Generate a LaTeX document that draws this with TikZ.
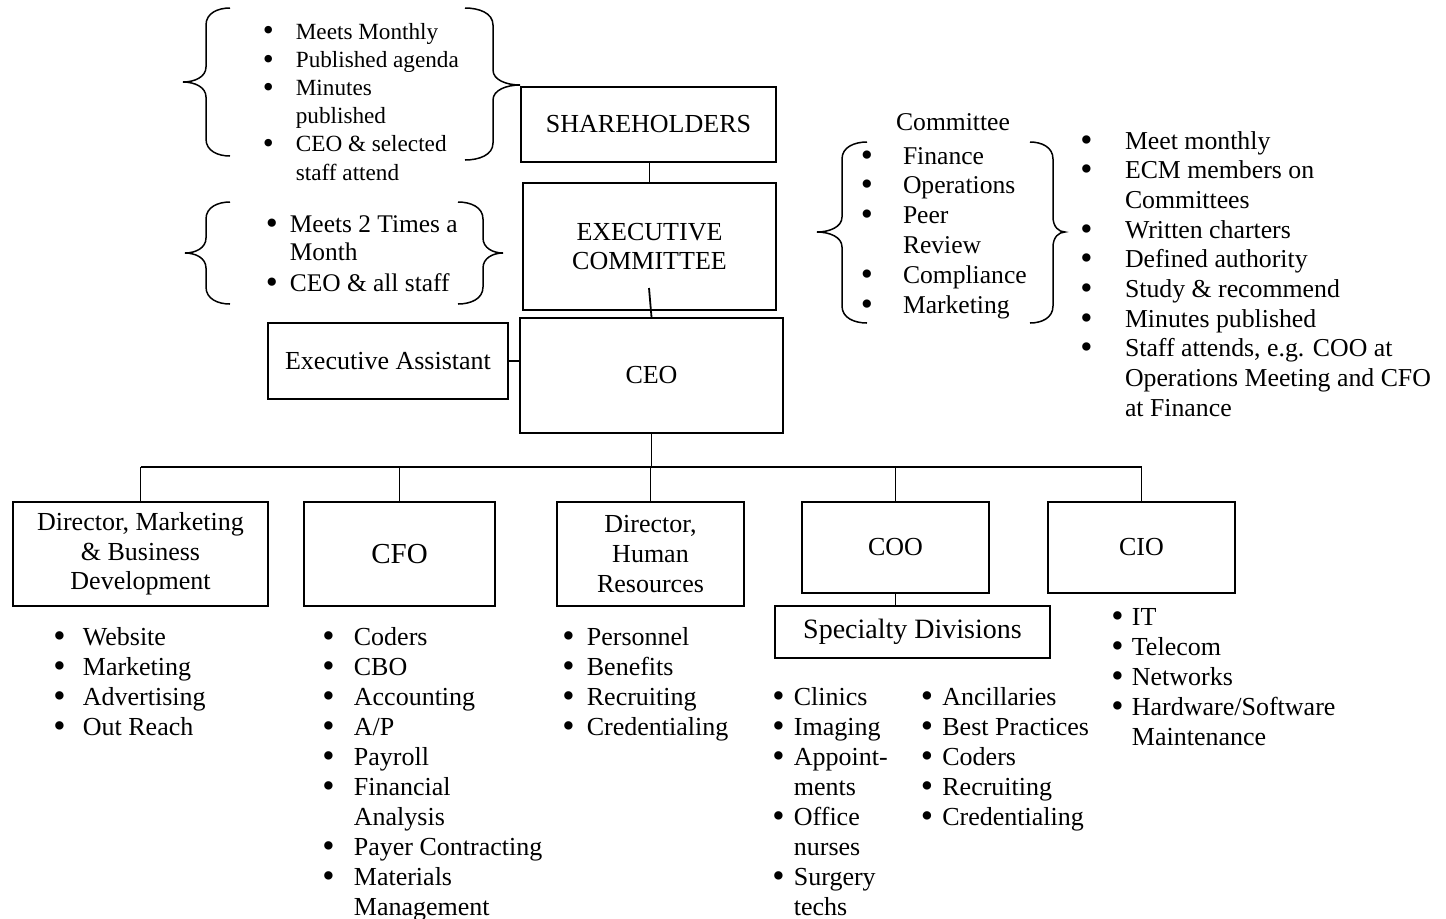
\documentclass[tikz,border=0pt]{standalone}
\usepackage{fontspec}
\usepackage{graphicx}
\setmainfont{Liberation Serif}

\newcommand{\bul}{\raisebox{-0.08em}{\scalebox{1.35}{\textbullet}}}
% curly brace: end x, spine x, tip x, top y, tip y, bottom y
\newcommand{\curlbrace}[6]{%
  \draw[curl] (#1,#4) .. controls ({#2+0.5*(#1-#2)},#4) and (#2,{#4+5}) .. (#2,{#4+17})
    -- (#2,{#5-15}) .. controls (#2,{#5-5}) and ({#2+0.5*(#3-#2)},#5) .. (#3,#5)
    .. controls ({#2+0.5*(#3-#2)},#5) and (#2,{#5+5}) .. (#2,{#5+15})
    -- (#2,{#6-17}) .. controls (#2,{#6-5}) and ({#2+0.5*(#1-#2)},#6) .. (#1,#6);}

\begin{document}
\begin{tikzpicture}[x=0.5pt, y=-0.5pt, line width=0.9pt,
  box/.style={draw, align=center, inner sep=0pt, font=\fontsize{13}{14.8}\selectfont},
  blist/.style={anchor=base west, inner sep=0pt, font=\fontsize{13}{15}\selectfont},
  curl/.style={line width=0.75pt}]
  \useasboundingbox (0,0) rectangle (1446,918);

  % top of the chart
  \node[box, minimum width=127.5pt, minimum height=37.5pt] (sh) at (648.5,124.5) {SHAREHOLDERS};
  \node[box, minimum width=126.5pt, minimum height=63.5pt] (ec) at (649.5,246.5) {EXECUTIVE\\COMMITTEE};
  \node[box, minimum width=131.5pt, minimum height=57.5pt] (ceo) at (651.5,375.5) {CEO};
  \node[box, minimum width=120pt, minimum height=38pt] (ea) at (388,361) {Executive Assistant};
  \coordinate (ecin) at (649,288);
  \draw (sh.south -| ec.north) -- (ec.north);
  \draw (ecin) -- (ceo.north);
  \draw (ea.east) -- (ea.east -| ceo.west);

  % direct reports
  \node[box, minimum width=127.5pt, minimum height=52pt] (dmk) at (140.5,554) {Director, Marketing\\\& Business\\Development};
  \node[box, minimum width=95.5pt, minimum height=52pt, font=\fontsize{14.5}{16}\selectfont] (cfo) at (399.5,554) {CFO};
  \node[box, minimum width=93.5pt, minimum height=52pt] (dhr) at (650.5,554) {Director,\\Human\\Resources};
  \node[box, minimum width=93.5pt, minimum height=45.5pt] (coo) at (895.5,547.5) {COO};
  \node[box, minimum width=93.5pt, minimum height=45.5pt] (cio) at (1141.5,547.5) {CIO};
  \node[box, minimum width=137.5pt, minimum height=26pt, font=\fontsize{14}{16}\selectfont] (spec) at (912.5,632) {Specialty Divisions};

  \coordinate (bus) at (0,467);
  \draw (ceo.south) -- (ceo.south |- bus);
  \draw (dmk.north |- bus) -- (cio.north |- bus);
  \foreach \n in {dmk,cfo,dhr,coo,cio}
    \draw (\n.north |- bus) -- (\n.north);
  \draw (coo.south) -- (coo.south |- spec.north);

  % notes beside the board
  \curlbrace{230}{206}{183}{8}{82}{156}
  \curlbrace{465}{493}{520}{8}{85}{160}
  \node[blist, font=\fontsize{11.6}{14.1}\selectfont] (shnotes) at (262,39) {%
    \begin{tabular}[t]{@{}l@{\hspace{11pt}}l@{}}
      \bul & Meets Monthly\\ \bul & Published agenda\\
      \bul & Minutes\\ & published\\
      \bul & CEO \& selected\\ & staff attend
    \end{tabular}};

  \curlbrace{230}{206}{185}{202}{253}{304}
  \curlbrace{458}{483}{503}{202}{253}{304}
  \node[blist, font=\fontsize{12.7}{14}\selectfont] (ecnotes) at (265,232) {%
    \begin{tabular}[t]{@{}l@{\hspace{6pt}}l@{}}
      \bul & Meets 2 Times a\\ & Month\\[1.5pt]
      \bul & CEO \& all staff
    \end{tabular}};

  % committees
  \node[font=\fontsize{12.8}{15}\selectfont, inner sep=0pt] (cmte) at (953,122) {Committee};
  \curlbrace{867}{842}{817}{142}{232}{323}
  \curlbrace{1030}{1053}{1065}{142}{232}{323}
  \node[blist, font=\fontsize{12.8}{14.9}\selectfont] (cmtelist) at (860,164) {%
    \begin{tabular}[t]{@{}l@{\hspace{15pt}}l@{}}
      \bul & Finance\\ \bul & Operations\\
      \bul & Peer\\ & Review\\
      \bul & Compliance\\ \bul & Marketing
    \end{tabular}};
  \node[blist, font=\fontsize{12.9}{14.85}\selectfont] (cmtenotes) at (1079.5,149) {%
    \begin{tabular}[t]{@{}l@{\hspace{16.2pt}}l@{}}
      \bul & Meet monthly\\ \bul & ECM members on\\ & Committees\\
      \bul & Written charters\\ \bul & Defined authority\\
      \bul & Study \& recommend\\ \bul & Minutes published\\
      \bul & Staff attends, e.g. COO at\\ & Operations Meeting and CFO\\ & at Finance
    \end{tabular}};

  % duties under each box
  \node[blist] (dmklist) at (52.5,645) {%
    \begin{tabular}[t]{@{}l@{\hspace{8.6pt}}l@{}}
      \bul & Website\\ \bul & Marketing\\
      \bul & Advertising\\ \bul & Out Reach
    \end{tabular}};
  \node[blist] (cfolist) at (321.5,645) {%
    \begin{tabular}[t]{@{}l@{\hspace{9.6pt}}l@{}}
      \bul & Coders\\ \bul & CBO\\ \bul & Accounting\\
      \bul & A/P\\ \bul & Payroll\\
      \bul & Financial\\ & Analysis\\
      \bul & Payer Contracting\\
      \bul & Materials\\ & Management
    \end{tabular}};
  \node[blist] (dhrlist) at (561.5,645) {%
    \begin{tabular}[t]{@{}l@{\hspace{6.1pt}}l@{}}
      \bul & Personnel\\ \bul & Benefits\\
      \bul & Recruiting\\ \bul & Credentialing
    \end{tabular}};
  \node[blist] (speclista) at (771.5,705) {%
    \begin{tabular}[t]{@{}l@{\hspace{4.6pt}}l@{}}
      \bul & Clinics\\ \bul & Imaging\\
      \bul & Appoint-\\ & ments\\
      \bul & Office\\ & nurses\\
      \bul & Surgery\\ & techs
    \end{tabular}};
  \node[blist] (speclistb) at (920,705) {%
    \begin{tabular}[t]{@{}l@{\hspace{4.6pt}}l@{}}
      \bul & Ancillaries\\ \bul & Best Practices\\
      \bul & Coders\\ \bul & Recruiting\\
      \bul & Credentialing
    \end{tabular}};
  \node[blist] (ciolist) at (1110.5,625) {%
    \begin{tabular}[t]{@{}l@{\hspace{4.1pt}}l@{}}
      \bul & IT\\ \bul & Telecom\\ \bul & Networks\\
      \bul & Hardware/Software\\ & Maintenance
    \end{tabular}};
\end{tikzpicture}
\end{document}
